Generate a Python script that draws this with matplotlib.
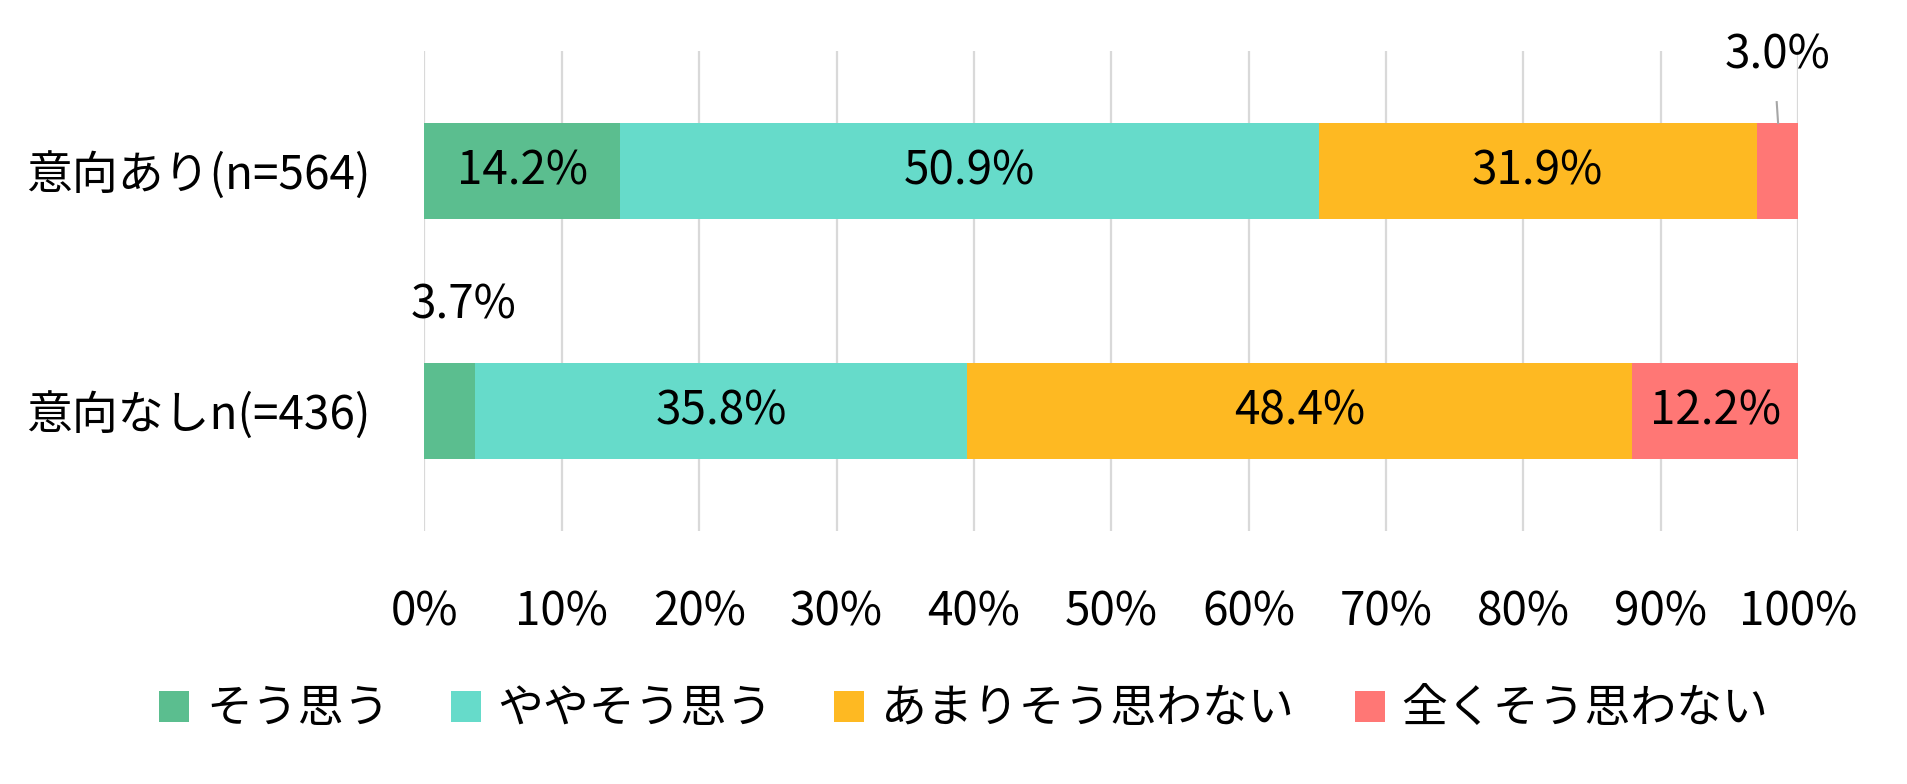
import matplotlib
matplotlib.use("Agg")
import matplotlib.pyplot as plt
import numpy as np

plt.rcParams['font.family'] = ['Noto Sans CJK JP', 'DejaVu Sans']

categories = ["意向あり(n=564)", "意向なしn(=436)"]
series_names = ["そう思う", "ややそう思う", "あまりそう思わない", "全くそう思わない"]
values = {
    "そう思う": [14.2, 3.7],
    "ややそう思う": [50.9, 35.8],
    "あまりそう思わない": [31.9, 48.4],
    "全くそう思わない": [3.0, 12.2],
}
colors = ["#5bbe8f", "#66dbca", "#feb922", "#ff7775"]
xticks = [0, 10, 20, 30, 40, 50, 60, 70, 80, 90, 100]
tick_labels = [f"{t}%" for t in xticks]

FS = 33
fig = plt.figure(figsize=(19.08, 7.84), dpi=100)
ax = fig.add_axes([424.5/1908, 1-531/784, (1798-424.5)/1908, (531-51)/784])

y = np.arange(len(categories))
left = np.zeros(len(categories))
bar_h = 0.4
for name, c in zip(series_names, colors):
    v = np.array(values[name])
    ax.barh(y, v, left=left, height=bar_h, color=c, label=name, zorder=3, linewidth=0)
    for i, (val, l) in enumerate(zip(v, left)):
        cx = l + val / 2
        if val >= 5:
            ax.text(cx, y[i], f"{val:.1f}%", ha='center', va='center', fontsize=FS, zorder=4)
        elif i == 0:
            ax.text(cx, y[i] - 0.483, f"{val:.1f}%", ha='center', va='center', fontsize=FS, zorder=4)
            ax.plot([cx - 0.05, cx + 0.05], [y[i] - 0.287, y[i] - bar_h/2], color='#a6a6a6', lw=1.5, zorder=4)
        else:
            ax.text(cx + 1.0, y[i] - 0.44, f"{val:.1f}%", ha='center', va='center', fontsize=FS, zorder=4)
    left = left + v

ax.set_xlim(0, 100)
ax.set_ylim(1.5, -0.5)
ax.set_xticks(xticks)
ax.set_xticklabels(tick_labels, fontsize=FS)
ax.set_yticks(y)
ax.set_yticklabels(categories, fontsize=FS)
ax.tick_params(axis='both', length=0)
ax.tick_params(axis='x', pad=41)
ax.tick_params(axis='y', pad=39)
ax.grid(axis='x', color='#d9d9d9', linewidth=1.6, zorder=0)
ax.grid(axis='y', visible=False)
for s in ax.spines.values():
    s.set_visible(False)

fig.legend(loc='center', bbox_to_anchor=(964/1908, 1-709/784), ncol=4, frameon=False,
           fontsize=FS, handlelength=0.655, handleheight=0.655, handletextpad=0.37,
           columnspacing=1.33, borderaxespad=0)

fig.savefig("out.png", dpi=100, facecolor='white')
